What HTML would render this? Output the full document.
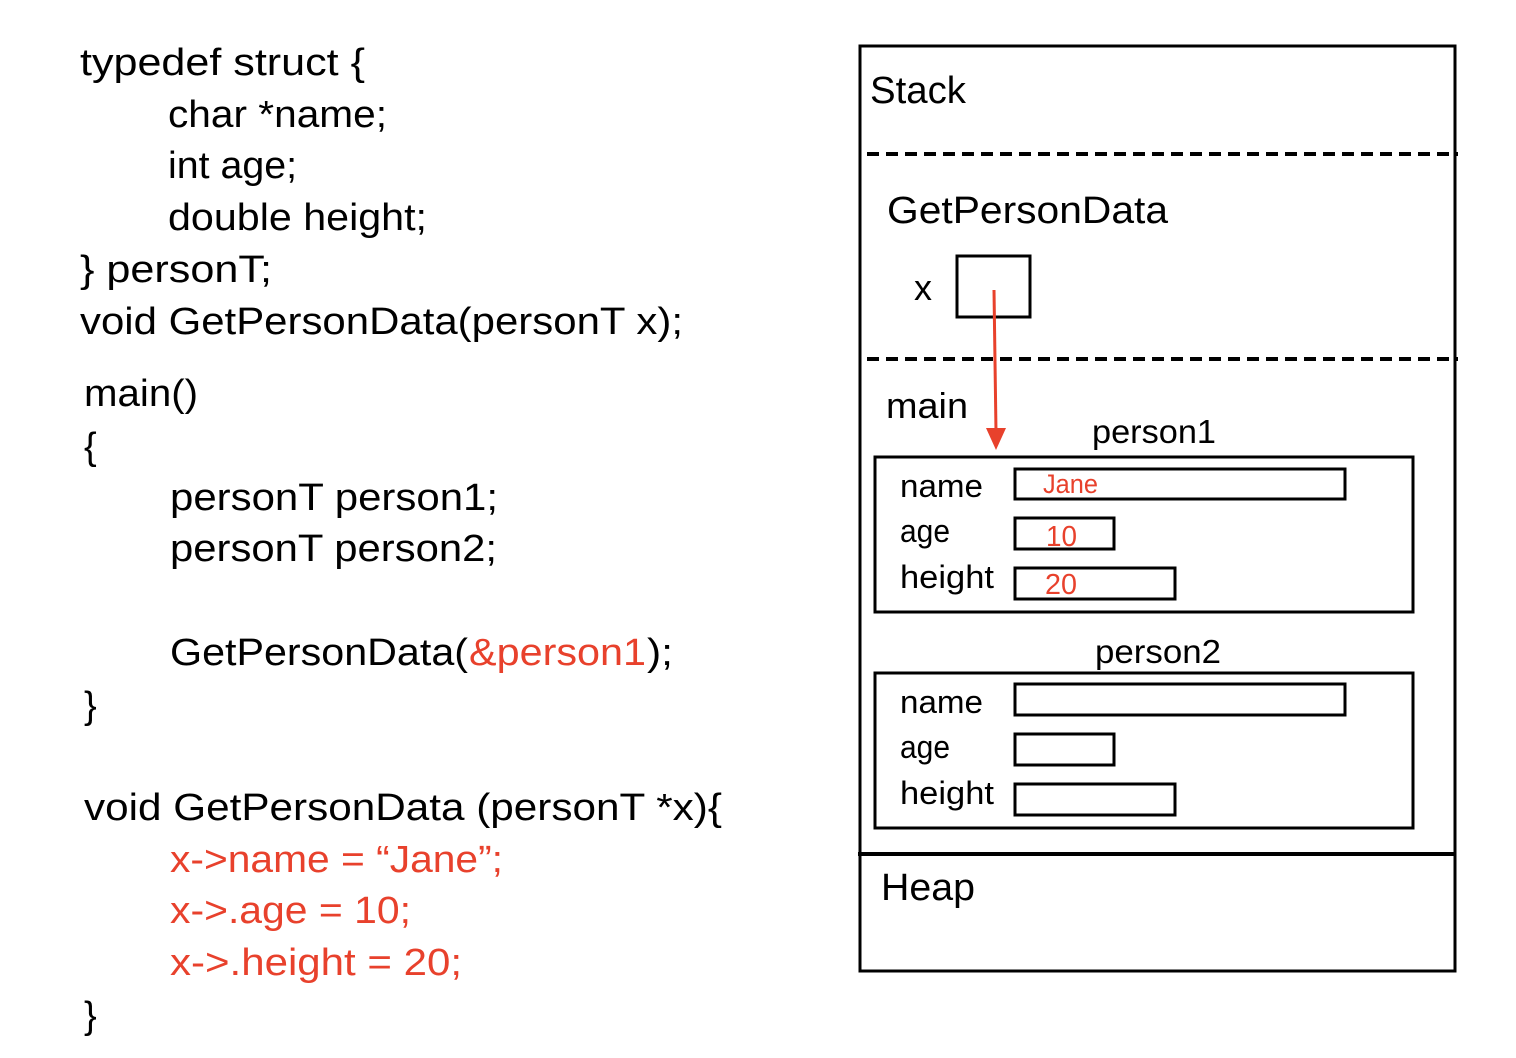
<!DOCTYPE html>
<html><head><meta charset="utf-8"><style>
html,body{margin:0;padding:0;background:#fff;}
svg{display:block;}
text{font-family:"Liberation Sans",sans-serif;fill:#000;}
.c{font-size:38px;}
.r{fill:#e8412c;}
</style></head><body>
<svg width="1516" height="1058" viewBox="0 0 1516 1058" xmlns="http://www.w3.org/2000/svg">
<g class="c" lengthAdjust="spacingAndGlyphs">
<text x="80" y="75" textLength="285" lengthAdjust="spacingAndGlyphs">typedef struct {</text>
<text x="168" y="127" textLength="219" lengthAdjust="spacingAndGlyphs">char *name;</text>
<text x="168" y="178" textLength="129" lengthAdjust="spacingAndGlyphs">int age;</text>
<text x="168" y="230" textLength="259" lengthAdjust="spacingAndGlyphs">double height;</text>
<text x="80" y="282" textLength="192" lengthAdjust="spacingAndGlyphs">} personT;</text>
<text x="80" y="334" textLength="603" lengthAdjust="spacingAndGlyphs">void GetPersonData(personT x);</text>
<text x="84" y="406" textLength="114" lengthAdjust="spacingAndGlyphs">main()</text>
<text x="84" y="459">{</text>
<text x="170" y="510" textLength="328" lengthAdjust="spacingAndGlyphs">personT person1;</text>
<text x="170" y="561" textLength="327" lengthAdjust="spacingAndGlyphs">personT person2;</text>
<text x="170" y="665" textLength="298" lengthAdjust="spacingAndGlyphs">GetPersonData(</text>
<text x="469" y="665" class="r" textLength="177" lengthAdjust="spacingAndGlyphs">&amp;person1</text>
<text x="647" y="665" textLength="26" lengthAdjust="spacingAndGlyphs">);</text>
<text x="84" y="718">}</text>
<text x="84" y="820" textLength="638" lengthAdjust="spacingAndGlyphs">void GetPersonData (personT *x){</text>
<text x="170" y="872" class="r" textLength="333" lengthAdjust="spacingAndGlyphs">x-&gt;name = “Jane”;</text>
<text x="170" y="923" class="r" textLength="241" lengthAdjust="spacingAndGlyphs">x-&gt;.age = 10;</text>
<text x="170" y="975" class="r" textLength="292" lengthAdjust="spacingAndGlyphs">x-&gt;.height = 20;</text>
<text x="84" y="1028">}</text>
</g>
<rect x="860" y="46" width="595" height="925" fill="none" stroke="#000" stroke-width="3"/>
<line x1="867" y1="154" x2="1458" y2="154" stroke="#000" stroke-width="4" stroke-dasharray="12,7"/>
<line x1="867" y1="359" x2="1458" y2="359" stroke="#000" stroke-width="4" stroke-dasharray="12,7"/>
<line x1="858" y1="854" x2="1456" y2="854" stroke="#000" stroke-width="4"/>
<text x="870" y="103" font-size="38" textLength="96" lengthAdjust="spacingAndGlyphs">Stack</text>
<text x="887" y="223" font-size="38" textLength="281" lengthAdjust="spacingAndGlyphs">GetPersonData</text>
<text x="914" y="300" font-size="36">x</text>
<rect x="957" y="256" width="73" height="61" fill="none" stroke="#000" stroke-width="3"/>
<line x1="994" y1="290" x2="996" y2="432" stroke="#e8412c" stroke-width="3"/>
<polygon points="986,428 1006,428 996,450" fill="#e8412c"/>
<text x="886" y="418" font-size="36" textLength="82" lengthAdjust="spacingAndGlyphs">main</text>
<text x="1092" y="443" font-size="33" textLength="124" lengthAdjust="spacingAndGlyphs">person1</text>
<rect x="875" y="457" width="538" height="155" fill="none" stroke="#000" stroke-width="3"/>
<g font-size="32">
<text x="900" y="497" textLength="83" lengthAdjust="spacingAndGlyphs">name</text>
<text x="900" y="542" textLength="50" lengthAdjust="spacingAndGlyphs">age</text>
<text x="900" y="588" textLength="94" lengthAdjust="spacingAndGlyphs">height</text>
</g>
<rect x="1015" y="469" width="330" height="30" fill="none" stroke="#000" stroke-width="3"/>
<rect x="1015" y="518" width="99" height="31" fill="none" stroke="#000" stroke-width="3"/>
<rect x="1015" y="568" width="160" height="31" fill="none" stroke="#000" stroke-width="3"/>
<text x="1043" y="493" font-size="27" class="r" textLength="55" lengthAdjust="spacingAndGlyphs">Jane</text>
<text x="1046" y="546" font-size="29" class="r" textLength="31" lengthAdjust="spacingAndGlyphs">10</text>
<text x="1045" y="594" font-size="29" class="r" textLength="32" lengthAdjust="spacingAndGlyphs">20</text>
<text x="1095" y="663" font-size="33" textLength="126" lengthAdjust="spacingAndGlyphs">person2</text>
<rect x="875" y="673" width="538" height="155" fill="none" stroke="#000" stroke-width="3"/>
<g font-size="32">
<text x="900" y="713" textLength="83" lengthAdjust="spacingAndGlyphs">name</text>
<text x="900" y="758" textLength="50" lengthAdjust="spacingAndGlyphs">age</text>
<text x="900" y="804" textLength="94" lengthAdjust="spacingAndGlyphs">height</text>
</g>
<rect x="1015" y="684" width="330" height="31" fill="none" stroke="#000" stroke-width="3"/>
<rect x="1015" y="734" width="99" height="31" fill="none" stroke="#000" stroke-width="3"/>
<rect x="1015" y="784" width="160" height="31" fill="none" stroke="#000" stroke-width="3"/>
<text x="881" y="900" font-size="38" textLength="94" lengthAdjust="spacingAndGlyphs">Heap</text>
</svg>
</body></html>
